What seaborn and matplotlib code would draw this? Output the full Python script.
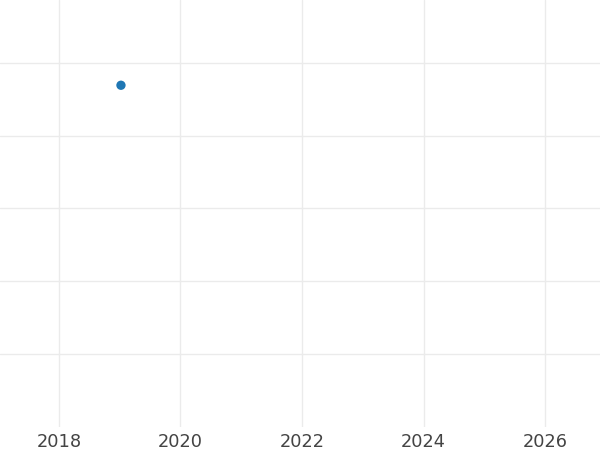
import matplotlib
matplotlib.use("Agg")
import matplotlib.pyplot as plt
import seaborn as sns
import pandas as pd

# Datos: un único punto
years = [2019.02]
values = [3.69]
x_ticks = [2018, 2020, 2022, 2024, 2026]
y_ticks = [0, 1, 2, 3, 4]

df = pd.DataFrame({"year": years, "value": values})

sns.set_theme(style="whitegrid")
fig = plt.figure(figsize=(6, 4.5), dpi=100)
ax = fig.add_axes([0, 1 - 427 / 450, 1, 427 / 450])

sns.scatterplot(data=df, x="year", y="value", ax=ax, color="#1f77b4",
                s=45, edgecolor="none", zorder=3)

ax.set_xlim(2017.029, 2026.905)
ax.set_ylim(-1.0, 4.86)
ax.set_xticks(x_ticks)
ax.set_yticks(y_ticks)
ax.set_xticklabels([str(t) for t in x_ticks], fontsize=12.8, color="#444444")
ax.tick_params(axis="y", labelleft=False, length=0)
ax.tick_params(axis="x", length=0, pad=4)
ax.grid(True, color="#ebebeb", linewidth=1)
ax.set_xlabel("")
ax.set_ylabel("")
for s in ax.spines.values():
    s.set_visible(False)
ax.set_facecolor("white")

fig.savefig("out.png", dpi=100)
